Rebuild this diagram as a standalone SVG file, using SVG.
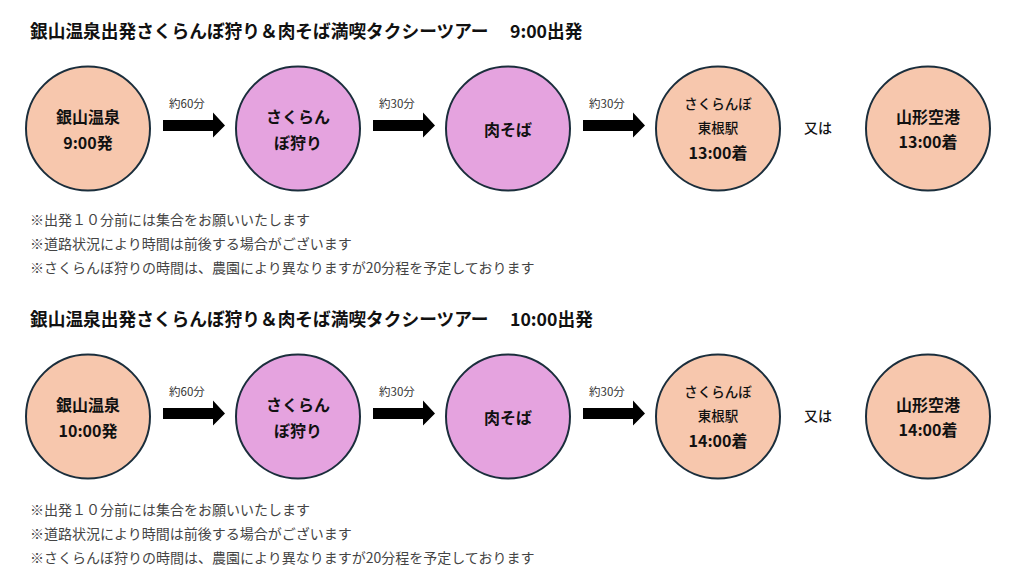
<svg xmlns="http://www.w3.org/2000/svg" width="1021" height="587" viewBox="0 0 1021 587">
<defs>
<style>
text{font-family:"Noto Sans CJK JP","Noto Sans",sans-serif;fill:#111}
.title{font-size:17.7px;font-weight:700}
.note{font-size:14px;fill:#444}
.lbl{font-size:11.5px;fill:#333}
.or{font-size:14px;font-weight:500}
.n{font-size:16px;font-weight:700;text-anchor:middle}
.s{font-size:13.5px;font-weight:500;text-anchor:middle}
.peach{fill:#F7C7AD;stroke:#1B2E3C;stroke-width:2}
.pink{fill:#E5A3DF;stroke:#1B2E3C;stroke-width:2}
.arrow{fill:#000}
</style>
<polygon id="arr" points="0,-5.5 50,-5.5 50,-13 62,0 50,12 50,5.5 0,5.5"/>
</defs>
<rect width="1021" height="587" fill="#fff"/>

<g id="row1">
<text class="title" x="30" y="38">銀山温泉出発さくらんぼ狩り＆肉そば満喫タクシーツアー<tspan x="510">9:00出発</tspan></text>
<g id="connectors1">
<use href="#arr" x="163" y="125.5" class="arrow"/>
<use href="#arr" x="373" y="125.5" class="arrow"/>
<use href="#arr" x="583" y="125.5" class="arrow"/>
<text class="lbl" x="169" y="108">約60分</text>
<text class="lbl" x="379" y="108">約30分</text>
<text class="lbl" x="589" y="108">約30分</text>
</g>
<g id="r1n1"><circle class="peach" cx="88" cy="128.5" r="62"/><text class="n" x="88" y="123">銀山温泉</text><text class="n" x="88" y="149">9:00発</text></g>
<g id="r1n2"><circle class="pink" cx="298" cy="128.5" r="62"/><text class="n" x="298" y="123">さくらん</text><text class="n" x="298" y="149">ぼ狩り</text></g>
<g id="r1n3"><circle class="pink" cx="508" cy="128.5" r="62"/><text class="n" x="508" y="136">肉そば</text></g>
<g id="r1n4"><circle class="peach" cx="718" cy="128.5" r="62"/><text class="s" x="718" y="109">さくらんぼ</text><text class="s" x="718" y="133">東根駅</text><text class="n" x="718" y="159">13:00着</text></g>
<text class="or" x="804" y="133">又は</text>
<g id="r1n5"><circle class="peach" cx="928" cy="128.5" r="62"/><text class="n" x="928" y="123">山形空港</text><text class="n" x="928" y="148">13:00着</text></g>
<text class="note" x="30" y="225">※出発１０分前には集合をお願いいたします</text>
<text class="note" x="30" y="249">※道路状況により時間は前後する場合がございます</text>
<text class="note" x="30" y="273">※さくらんぼ狩りの時間は、農園により異なりますが20分程を予定しております</text>
</g>

<g id="row2" transform="translate(0,288)">
<text class="title" x="30" y="38">銀山温泉出発さくらんぼ狩り＆肉そば満喫タクシーツアー<tspan x="510">10:00出発</tspan></text>
<g id="connectors2">
<use href="#arr" x="163" y="125.5" class="arrow"/>
<use href="#arr" x="373" y="125.5" class="arrow"/>
<use href="#arr" x="583" y="125.5" class="arrow"/>
<text class="lbl" x="169" y="108">約60分</text>
<text class="lbl" x="379" y="108">約30分</text>
<text class="lbl" x="589" y="108">約30分</text>
</g>
<g id="r2n1"><circle class="peach" cx="88" cy="128.5" r="62"/><text class="n" x="88" y="123">銀山温泉</text><text class="n" x="88" y="149">10:00発</text></g>
<g id="r2n2"><circle class="pink" cx="298" cy="128.5" r="62"/><text class="n" x="298" y="123">さくらん</text><text class="n" x="298" y="149">ぼ狩り</text></g>
<g id="r2n3"><circle class="pink" cx="508" cy="128.5" r="62"/><text class="n" x="508" y="136">肉そば</text></g>
<g id="r2n4"><circle class="peach" cx="718" cy="128.5" r="62"/><text class="s" x="718" y="109">さくらんぼ</text><text class="s" x="718" y="133">東根駅</text><text class="n" x="718" y="159">14:00着</text></g>
<text class="or" x="804" y="133">又は</text>
<g id="r2n5"><circle class="peach" cx="928" cy="128.5" r="62"/><text class="n" x="928" y="123">山形空港</text><text class="n" x="928" y="148">14:00着</text></g>
<text class="note" x="30" y="227">※出発１０分前には集合をお願いいたします</text>
<text class="note" x="30" y="251">※道路状況により時間は前後する場合がございます</text>
<text class="note" x="30" y="275">※さくらんぼ狩りの時間は、農園により異なりますが20分程を予定しております</text>
</g>
</svg>
